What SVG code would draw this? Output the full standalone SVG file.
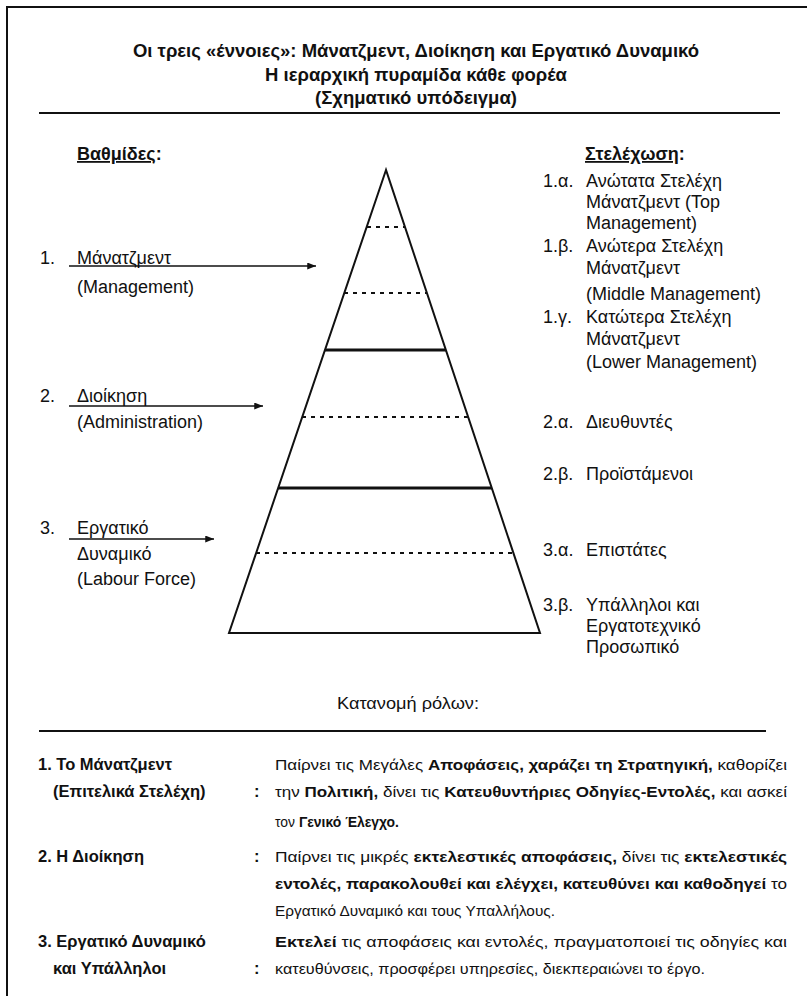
<svg xmlns="http://www.w3.org/2000/svg" width="807" height="996" viewBox="0 0 807 996">
<style>
  text { font-family: "Liberation Sans", Arial, sans-serif; fill: #111; }
  .t { font-size: 18.5px; font-weight: bold; text-anchor: middle; }
  .lbl { font-size: 18px; }
  .hd { font-size: 18px; font-weight: bold; }
  .rl { font-size: 15.5px; }
  .rb { font-size: 16.5px; font-weight: bold; }
  .b { font-weight: bold; }
  .edge { stroke: #111; stroke-width: 2; fill: none; }
  .dash { stroke: #111; stroke-width: 2; stroke-dasharray: 4 5; }
  .thick { stroke: #111; stroke-width: 3.2; }
  .rule { stroke: #111; stroke-width: 2; }
  .arrow { stroke: #111; stroke-width: 1.6; fill: none; marker-end: url(#ah); }
</style>
<defs>
  <marker id="ah" viewBox="0 0 10 8" refX="10" refY="4" markerWidth="9" markerHeight="7" orient="auto" markerUnits="userSpaceOnUse">
    <path d="M0,0 L10,4 L0,8 z" fill="#111"/>
  </marker>
</defs>
<rect width="807" height="996" fill="#fff"/>

<g id="frame">
  <line x1="6" y1="7" x2="807" y2="7" class="rule"/>
  <line x1="7" y1="7" x2="7" y2="996" class="rule"/>
  <line x1="39" y1="113" x2="780" y2="113" class="rule"/>
  <line x1="39" y1="731" x2="766" y2="731" class="rule"/>
</g>

<g id="title">
  <text class="t" x="416" y="57">Οι τρεις «έννοιες»: Μάνατζμεντ, Διοίκηση και Εργατικό Δυναμικό</text>
  <text class="t" x="416" y="81">Η ιεραρχική πυραμίδα κάθε φορέα</text>
  <text class="t" x="416" y="104">(Σχηματικό υπόδειγμα)</text>
</g>

<g id="levels">
  <text class="hd" x="77" y="160"><tspan text-decoration="underline">Βαθμίδες</tspan>:</text>
  <g id="level-1">
    <text class="lbl" x="40" y="264">1.</text>
    <text class="lbl" x="77" y="264">Μάνατζμεντ</text>
    <text class="lbl" x="77" y="293">(Management)</text>
  </g>
  <g id="level-2">
    <text class="lbl" x="40" y="402">2.</text>
    <text class="lbl" x="77" y="402">Διοίκηση</text>
    <text class="lbl" x="77" y="428">(Administration)</text>
  </g>
  <g id="level-3">
    <text class="lbl" x="40" y="534">3.</text>
    <text class="lbl" x="77" y="534">Εργατικό</text>
    <text class="lbl" x="77" y="560">Δυναμικό</text>
    <text class="lbl" x="77" y="585">(Labour Force)</text>
  </g>
</g>

<g id="pyramid">
  <path class="edge" d="M386,170 L229,633 L540,633 Z"/>
  <line class="dash" x1="367" y1="227" x2="405" y2="227"/>
  <line class="dash" x1="344" y1="293" x2="427" y2="293"/>
  <line class="thick" x1="325" y1="350" x2="446" y2="350"/>
  <line class="dash" x1="302" y1="417" x2="468" y2="417"/>
  <line class="thick" x1="278" y1="488" x2="492" y2="488"/>
  <line class="dash" x1="256" y1="553" x2="513" y2="553"/>
</g>

<g id="connectors">
  <line class="arrow" x1="69" y1="266" x2="316" y2="266"/>
  <line class="arrow" x1="69" y1="406" x2="263" y2="406"/>
  <line class="arrow" x1="69" y1="539" x2="214" y2="539"/>
</g>

<g id="staffing">
  <text class="hd" x="585" y="160"><tspan text-decoration="underline">Στελέχωση</tspan>:</text>
  <g id="s-1a">
    <text class="lbl" x="543" y="187">1.α.</text>
    <text class="lbl" x="586" y="187">Ανώτατα Στελέχη</text>
    <text class="lbl" x="586" y="208">Μάνατζμεντ (Top</text>
    <text class="lbl" x="586" y="229">Management)</text>
  </g>
  <g id="s-1b">
    <text class="lbl" x="543" y="252">1.β.</text>
    <text class="lbl" x="586" y="252">Ανώτερα Στελέχη</text>
    <text class="lbl" x="586" y="274">Μάνατζμεντ</text>
    <text class="lbl" x="586" y="300">(Middle Management)</text>
  </g>
  <g id="s-1c">
    <text class="lbl" x="543" y="323">1.γ.</text>
    <text class="lbl" x="586" y="323">Κατώτερα Στελέχη</text>
    <text class="lbl" x="586" y="345">Μάνατζμεντ</text>
    <text class="lbl" x="586" y="368">(Lower Management)</text>
  </g>
  <g id="s-2a">
    <text class="lbl" x="543" y="428">2.α.</text>
    <text class="lbl" x="586" y="428">Διευθυντές</text>
  </g>
  <g id="s-2b">
    <text class="lbl" x="543" y="480">2.β.</text>
    <text class="lbl" x="586" y="480">Προϊστάμενοι</text>
  </g>
  <g id="s-3a">
    <text class="lbl" x="543" y="556">3.α.</text>
    <text class="lbl" x="586" y="556">Επιστάτες</text>
  </g>
  <g id="s-3b">
    <text class="lbl" x="543" y="611">3.β.</text>
    <text class="lbl" x="586" y="611">Υπάλληλοι και</text>
    <text class="lbl" x="586" y="632">Εργατοτεχνικό</text>
    <text class="lbl" x="586" y="653">Προσωπικό</text>
  </g>
</g>

<g id="roles">
  <text x="408" y="709" font-size="17" text-anchor="middle" textLength="142" lengthAdjust="spacingAndGlyphs">Κατανομή ρόλων:</text>
  <g id="role-1">
    <text class="rb" x="38" y="770">1. Το Μάνατζμεντ</text>
    <text class="rb" x="53" y="797">(Επιτελικά Στελέχη)</text>
    <text class="rb" x="254" y="797">:</text>
    <text class="rl" x="275" y="770" textLength="512" lengthAdjust="spacingAndGlyphs">Παίρνει τις Μεγάλες <tspan class="b">Αποφάσεις, χαράζει τη Στρατηγική,</tspan> καθορίζει</text>
    <text class="rl" x="275" y="797" textLength="512" lengthAdjust="spacingAndGlyphs">την <tspan class="b">Πολιτική,</tspan> δίνει τις <tspan class="b">Κατευθυντήριες Οδηγίες-Εντολές,</tspan> και ασκεί</text>
    <text class="rl" x="275" y="827" textLength="124" lengthAdjust="spacingAndGlyphs">τον <tspan class="b">Γενικό Έλεγχο.</tspan></text>
  </g>
  <g id="role-2">
    <text class="rb" x="38" y="862">2. Η Διοίκηση</text>
    <text class="rb" x="254" y="862">:</text>
    <text class="rl" x="275" y="862" textLength="512" lengthAdjust="spacingAndGlyphs">Παίρνει τις μικρές <tspan class="b">εκτελεστικές αποφάσεις,</tspan> δίνει τις <tspan class="b">εκτελεστικές</tspan></text>
    <text class="rl" x="275" y="889" textLength="512" lengthAdjust="spacingAndGlyphs"><tspan class="b">εντολές, παρακολουθεί και ελέγχει, κατευθύνει και καθοδηγεί</tspan> το</text>
    <text class="rl" x="275" y="916" textLength="280" lengthAdjust="spacingAndGlyphs">Εργατικό Δυναμικό και τους Υπαλλήλους.</text>
  </g>
  <g id="role-3">
    <text class="rb" x="38" y="947">3. Εργατικό Δυναμικό</text>
    <text class="rb" x="53" y="974">και Υπάλληλοι</text>
    <text class="rb" x="254" y="974">:</text>
    <text class="rl" x="275" y="947" textLength="512" lengthAdjust="spacingAndGlyphs"><tspan class="b">Εκτελεί</tspan> τις αποφάσεις και εντολές, πραγματοποιεί τις οδηγίες και</text>
    <text class="rl" x="275" y="974" textLength="430" lengthAdjust="spacingAndGlyphs">κατευθύνσεις, προσφέρει υπηρεσίες, διεκπεραιώνει το έργο.</text>
  </g>
</g>
</svg>
